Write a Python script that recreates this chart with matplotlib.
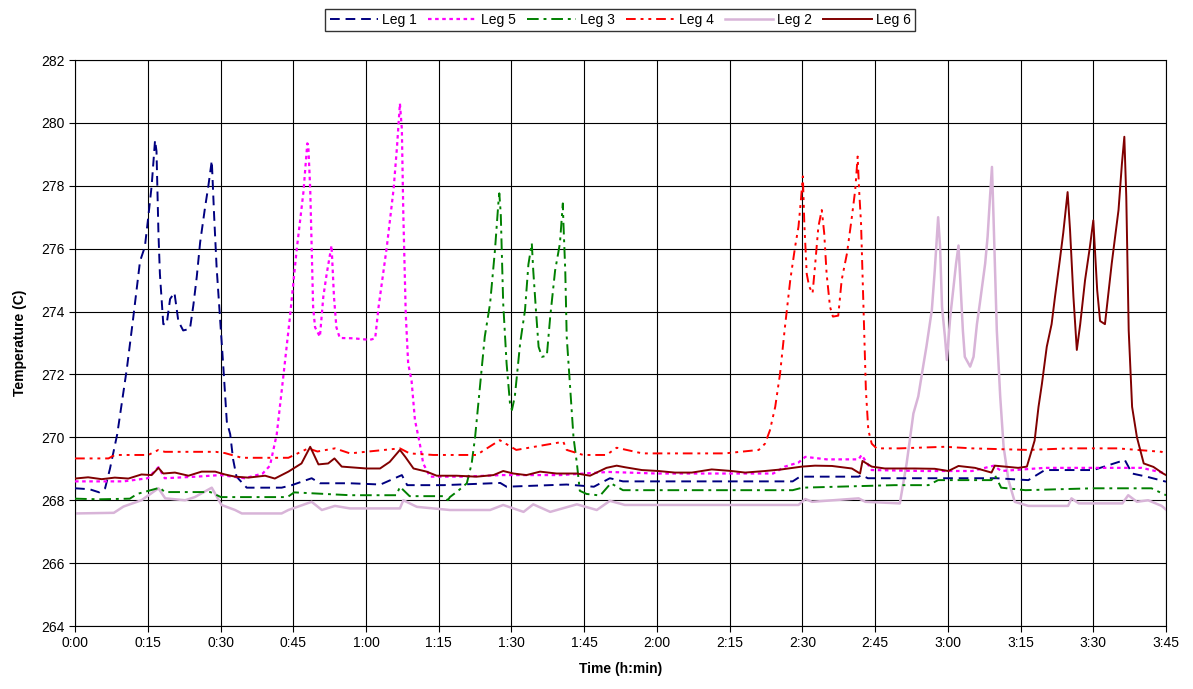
import matplotlib
matplotlib.use("Agg")
import matplotlib.pyplot as plt

plt.rcParams['font.family'] = ['Liberation Sans', 'DejaVu Sans']

# ---- data (time in minutes, temperature in C) ----
t_leg1 = [0, 3, 5, 6.2, 7.2, 8.7, 10.7, 12, 13.4, 14.4,
          15.1, 15.8, 16.5, 16.8, 17.2, 17.5, 18.2, 18.9, 19.6, 20.5,
          21.3, 22.3, 23.7, 24.4, 25.1, 25.8, 26.8, 27.5, 28.2, 28.7,
          29.2, 29.9, 30.6, 31.3, 32, 32.6, 33.3, 35.4, 42.6, 44.7,
          48.8, 50.5, 56.7, 63, 67.4, 68.5, 76, 87.7, 89, 101.4,
          107, 110.3, 113, 130, 148, 149.5, 161.6, 162.2, 163.5, 175,
          190, 196.6, 200, 210, 216.5, 218, 221, 225]
v_leg1 = [268.38, 268.35, 268.25, 268.38, 269.0, 270.1, 272.2, 273.8, 275.6, 276.06,
          277.0, 278.0, 279.45, 279.1, 276.5, 275.2, 273.6, 273.6, 274.4, 274.6,
          273.7, 273.4, 273.45, 274.2, 275.1, 276.2, 277.3, 278.0, 278.8, 277.0,
          275.4, 273.8, 272.2, 270.5, 270.1, 269.3, 268.75, 268.4, 268.4, 268.48,
          268.7, 268.54, 268.54, 268.5, 268.8, 268.48, 268.48, 268.55, 268.43, 268.5,
          268.43, 268.7, 268.6, 268.6, 268.6, 268.75, 268.75, 268.8, 268.7, 268.7,
          268.7, 268.64, 268.96, 268.96, 269.28, 268.85, 268.75, 268.59]

t_leg5 = [0, 10, 15, 17.2, 18.5, 25, 30, 35, 38.7, 40.2,
          41.6, 43, 44.3, 45.7, 47.1, 47.9, 48.1, 48.5, 48.8, 49.1,
          49.5, 50.5, 51.2, 51.9, 52.9, 53.4, 53.9, 54.6, 57.4, 60.8,
          61.9, 62.6, 64.3, 65.7, 66.4, 67.0, 67.4, 67.7, 68.2, 68.7,
          69.4, 70.1, 71.1, 71.8, 73.2, 80, 88, 95, 100, 105,
          110, 120, 130, 144, 146.4, 149.2, 150.6, 155, 161.6, 162.2,
          164.3, 175, 185, 189.5, 191, 200, 210, 220, 225]
v_leg5 = [268.6, 268.6, 268.7, 269.05, 268.7, 268.75, 268.8, 268.7, 268.85, 269.1,
          270.1, 272.0, 273.8, 275.95, 277.8, 279.35, 279.3, 277.9, 276.06, 274.15,
          273.5, 273.2, 274.47, 275.2, 276.1, 274.47, 273.5, 273.16, 273.15, 273.1,
          273.15, 274.15, 276.06, 277.9, 279.24, 280.62, 279.8, 277.1, 273.94, 272.35,
          271.8, 270.55, 269.8, 269.17, 268.75, 268.75, 268.8, 268.8, 268.8, 268.85,
          268.9, 268.85, 268.85, 268.85, 269.07, 269.2, 269.38, 269.3, 269.3, 269.44,
          268.96, 268.93, 268.93, 269.1, 268.93, 269.03, 269.03, 269.03, 268.85]

t_leg3 = [0, 5, 11.3, 12.8, 17.5, 18.5, 27.9, 30.1, 43.8, 45.2,
          56.7, 66.3, 67, 69, 76, 76.9, 77.3, 79, 80.8, 81.8,
          82.5, 83.5, 84.5, 85.6, 86.6, 87.3, 87.5, 87.8, 88.3, 89.0,
          89.7, 90.1, 90.7, 91.8, 92.8, 93.5, 94.2, 94.5, 95.1, 95.6,
          96.3, 97.3, 98, 99, 100, 100.6, 100.7, 101.1, 101.4, 102.1,
          102.8, 103.5, 104.1, 105.5, 108.3, 110.5, 113, 148, 150, 169,
          176, 178, 189, 189.7, 191, 196, 210, 222, 225]
v_leg3 = [268.05, 268.03, 268.05, 268.2, 268.4, 268.26, 268.26, 268.1, 268.1, 268.25,
          268.16, 268.16, 268.43, 268.13, 268.13, 268.0, 268.1, 268.3, 268.54, 269.17,
          270.0, 271.6, 273.2, 274.26, 275.95, 277.44, 277.76, 277.1, 274.26, 272.35,
          271.08, 270.87, 271.3, 273.0, 274.05, 275.5, 276.17, 275.3, 273.94, 272.88,
          272.56, 272.6, 273.84, 275.3, 276.17, 277.44, 276.9, 275.3, 273.2, 271.6,
          270.0, 269.17, 268.3, 268.2, 268.15, 268.54, 268.32, 268.32, 268.4, 268.48,
          268.48, 268.64, 268.64, 268.8, 268.4, 268.32, 268.38, 268.38, 268.16]

t_leg4 = [0, 6.9, 8.2, 15.1, 17.2, 18.5, 29, 30.9, 34.4, 44,
          48.1, 50, 53.6, 56.7, 67, 69, 73.9, 82.8, 87.6, 91,
          100.7, 101.4, 104.8, 109.6, 111.7, 117, 134, 141, 142.3, 143.3,
          144.4, 145.4, 146.4, 147.5, 148.5, 149.2, 149.7, 150.1, 150.4, 150.9,
          151.4, 152.1, 152.6, 153.3, 154, 154.5, 155, 155.7, 156.3, 157.4,
          158.1, 159.2, 160.2, 160.9, 161.4, 161.7, 162.1, 162.6, 163.1, 163.6,
          164.3, 165.3, 170, 179.4, 185, 196.6, 205, 215, 224.1, 225]
v_leg4 = [269.33, 269.33, 269.44, 269.44, 269.6, 269.54, 269.54, 269.5, 269.35, 269.35,
          269.65, 269.55, 269.65, 269.49, 269.65, 269.49, 269.44, 269.44, 269.91, 269.6,
          269.86, 269.6, 269.44, 269.44, 269.67, 269.49, 269.49, 269.6, 269.8, 270.22,
          270.97, 272.03, 273.5, 275.0, 276.06, 276.7, 277.55, 278.3, 276.8, 275.2,
          274.8, 274.58, 275.43, 276.7, 277.23, 276.5, 275.2, 274.15, 273.84, 273.87,
          275.0, 275.85, 277.0, 277.87, 278.93, 277.87, 276.8, 274.15, 271.5, 270.23,
          269.8, 269.65, 269.65, 269.7, 269.65, 269.6, 269.65, 269.65, 269.54, 269.45]

t_leg2 = [0, 8, 10, 13.7, 17.2, 18.6, 22.7, 24.7, 28.2, 30.2,
          33, 34.4, 42.6, 44, 48.8, 50.9, 53.6, 56.7, 67, 67.7,
          70.5, 77.3, 85.6, 88.3, 92.5, 94.5, 98, 103.5, 107.6, 110.3,
          113.4, 149.2, 150.6, 152, 161.6, 163, 170.1, 171.5, 172.9, 173.9,
          174.9, 175.6, 176.7, 177.3, 178.0, 178.4, 178.8, 179.4, 179.8, 180.5,
          181.1, 181.7, 182.2, 182.5, 183.1, 183.5, 184.6, 185.3, 186, 186.6,
          187.7, 188.2, 188.7, 189.1, 189.4, 190.1, 190.8, 191.5, 192.5, 193.8,
          196.6, 204.8, 205.5, 207, 216, 217.2, 219, 221.3, 224.1, 225]
v_leg2 = [267.58, 267.6, 267.8, 268.0, 268.38, 268.06, 268.0, 268.1, 268.4, 267.85,
          267.69, 267.58, 267.58, 267.69, 267.95, 267.69, 267.82, 267.74, 267.74, 268.0,
          267.79, 267.69, 267.69, 267.85, 267.63, 267.87, 267.63, 267.87, 267.69, 267.98,
          267.85, 267.85, 268.04, 267.95, 268.06, 267.95, 267.9, 269.17, 270.76, 271.3,
          272.25, 272.9, 274.05, 275.3, 277.0, 276.06, 274.15, 273.2, 272.46, 273.84,
          274.68, 275.53, 276.1, 275.2, 273.4, 272.56, 272.25, 272.56, 273.6, 274.26,
          275.53, 276.38, 277.65, 278.6, 277.1, 273.4, 271.3, 269.7, 268.64, 267.95,
          267.82, 267.82, 268.06, 267.9, 267.9, 268.16, 267.95, 268.0, 267.82, 267.7]

t_leg6 = [0, 2.7, 5.5, 8.2, 11, 13.7, 15.8, 17.2, 18.2, 20.6,
          23.4, 26.1, 28.9, 30.9, 33, 35.7, 39.2, 41.2, 44, 46.7,
          48.5, 50.2, 52.2, 53.5, 55, 60.1, 62.9, 64.9, 67, 68.1,
          69.8, 72.5, 74.6, 78.7, 82.8, 86.3, 88.3, 90.4, 93.1, 95.9,
          99.3, 103.5, 106.2, 109.6, 111.7, 113.4, 116.9, 120.3, 123.7, 127.2,
          131.3, 135.4, 138.2, 142.3, 145.7, 149.9, 152.6, 156.1, 160.2, 161.9,
          162.4, 164.3, 167, 170.1, 173.2, 177.3, 180.1, 182.2, 185.6, 189,
          189.7, 194.5, 196.3, 197.9, 198.7, 199.4, 200.4, 201.4, 202.1, 203.1,
          203.8, 204.7, 205.2, 205.9, 206.6, 207.3, 208.3, 209.3, 210.0, 210.8,
          211.4, 212.4, 212.8, 213.8, 215.2, 215.9, 216.4, 216.8, 217.3, 218.0,
          219.0, 220.4, 222.4, 224.4, 225]
v_leg6 = [268.69, 268.73, 268.67, 268.72, 268.69, 268.82, 268.8, 269.03, 268.85, 268.88,
          268.78, 268.91, 268.91, 268.82, 268.75, 268.72, 268.78, 268.69, 268.91, 269.17,
          269.7, 269.14, 269.17, 269.33, 269.07, 269.01, 269.01, 269.22, 269.6, 269.38,
          269.01, 268.91, 268.78, 268.78, 268.75, 268.8, 268.93, 268.85, 268.8, 268.91,
          268.85, 268.85, 268.78, 269.03, 269.1, 269.05, 268.96, 268.93, 268.88, 268.88,
          268.98, 268.93, 268.88, 268.93, 268.98, 269.07, 269.1, 269.09, 269.01, 268.85,
          269.25, 269.07, 269.01, 269.01, 269.01, 269.0, 268.93, 269.09, 269.03, 268.88,
          269.1, 269.03, 269.07, 269.9, 270.97, 271.7, 272.88, 273.6, 274.47, 275.64,
          276.5, 277.8, 276.6, 274.47, 272.78, 273.6, 275.0, 276.06, 276.9, 274.68,
          273.7, 273.6, 274.15, 275.53, 277.23, 278.7, 279.56, 277.65, 273.4, 270.97,
          270.0, 269.17, 269.06, 268.85, 268.8]

x_ticks = list(range(0, 226, 15))
x_labels = ["0:00", "0:15", "0:30", "0:45", "1:00", "1:15", "1:30", "1:45",
            "2:00", "2:15", "2:30", "2:45", "3:00", "3:15", "3:30", "3:45"]
y_ticks = list(range(264, 283, 2))

series = [
    ("Leg 1", t_leg1, v_leg1, "#000080", (0, (5, 3)), 1.4),
    ("Leg 5", t_leg5, v_leg5, "#FF00FF", (0, (1.6, 1.6)), 1.6),
    ("Leg 3", t_leg3, v_leg3, "#008000", (0, (6, 2.5, 1.5, 2.5)), 1.4),
    ("Leg 4", t_leg4, v_leg4, "#FF0000", (0, (5, 2.5, 1.5, 2.5, 1.5, 2.5)), 1.4),
    ("Leg 2", t_leg2, v_leg2, "#D8B4D8", "-", 1.8),
    ("Leg 6", t_leg6, v_leg6, "#800000", "-", 1.4),
]

fig = plt.figure(figsize=(11.93, 6.89), dpi=100)
ax = fig.add_axes([0.0629, 0.0914, 0.9145, 0.8215])

for i, (name, t, v, c, ls, lw) in enumerate(series):
    z = 2 if name == "Leg 2" else 3 + i
    ax.plot(t, v, color=c, linestyle=ls, linewidth=lw, label=name, zorder=z)

ax.set_xlim(0, 225)
ax.set_ylim(264, 282)
ax.set_xticks(x_ticks)
ax.set_xticklabels(x_labels)
ax.set_yticks(y_ticks)
ax.grid(True, color="black", linewidth=0.8)
ax.set_axisbelow(True)
for s in ax.spines.values():
    s.set_color("black")
    s.set_linewidth(0.8)
ax.tick_params(axis="both", labelsize=10, length=4, width=0.8, direction="out", colors="black")
ax.set_xlabel("Time (h:min)", fontsize=10, fontweight="bold", labelpad=8)
ax.set_ylabel("Temperature (C)", fontsize=10, fontweight="bold", labelpad=10)

leg = fig.legend(loc="center", bbox_to_anchor=(0.52, 0.971), ncol=6, fontsize=10,
                 frameon=True, fancybox=False, edgecolor="black", handlelength=3.5,
                 handletextpad=0.3, columnspacing=0.8, borderpad=0.3)
leg.get_frame().set_linewidth(1.0)

fig.savefig("out.png", dpi=100)
